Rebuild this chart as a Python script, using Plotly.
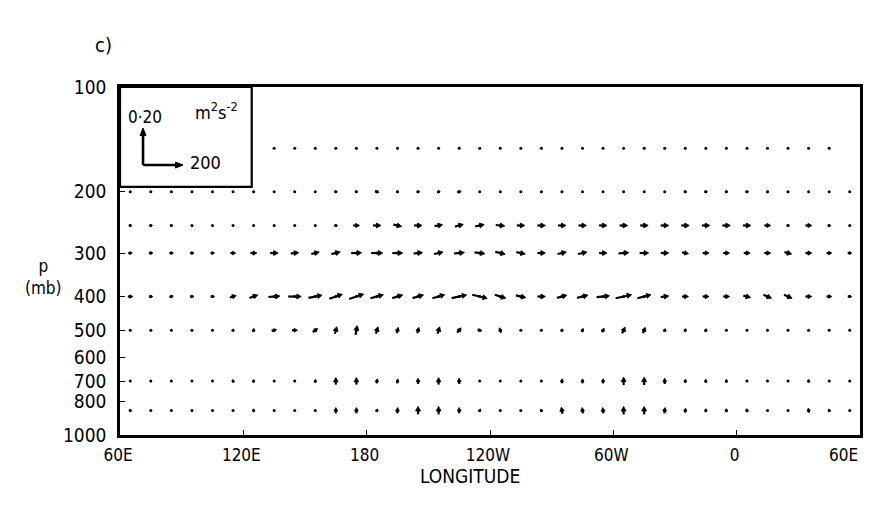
import numpy as np
import plotly.graph_objects as go

# ---------------- data ----------------
# longitudes in continuous degrees east (60E ... 420 = 60E)
lons = [65, 75, 85, 95, 105, 115, 125, 135, 145, 155, 165, 175, 185, 195, 205, 215, 225, 235,
        245, 255, 265, 275, 285, 295, 305, 315, 325, 335, 345, 355, 365, 375, 385, 395, 405, 415]
levels = [150, 200, 250, 300, 400, 500, 700, 850]

N = None
# zonal component (reference arrow = 200 m2 s-2), vertical component (reference = 0.20)
u_150 = [N, N, N, N, N, N, N, 5, 5, 5, 5, 5, 5, 5, 5, 5, 5, 5,
         5, 5, 5, 5, 5, 5, 5, 5, 5, 5, 5, 5, 5, 5, 5, 5, 5, N]
v_150 = [N, N, N, N, N, N, N, 0, 0, 0, 0, 0, 0, 0, 0, 0, 0, 0,
         0, 0, 0, 0, 0, 0, 0, 0, 0, 0, 0, 0, 0, 0, 0, 0, 0, N]
u_200 = [5, 5, 5, 5, 5, 5, 5, 5, 5, 5, 15, 15, 20, 15, 15, 15, 20, 10,
         10, 5, 5, 5, 5, 5, 5, 5, 5, 15, 15, 15, 15, 12, 5, 12, 5, 5]
v_200 = [0, 0, 0, 0, 0, 0, 0, 0, 0, 0, 0, 0, -0.007, 0, 0, 0.005, 0.007, 0,
         0, 0, 0, 0, 0, 0, 0.005, 0, 0, 0, 0, 0, 0, 0.007, 0, 0, 0, 0]
u_250 = [15, 15, 13, 10, 10, 10, 10, 10, 10, 10, 15, 32, 40, 42, 40, 40, 42, 45,
         45, 40, 40, 40, 40, 40, 40, 40, 40, 40, 40, 40, 40, 32, 15, 32, 15, 10]
v_250 = [0, 0, 0, 0, 0, 0, 0, 0, 0, 0, 0, 0, 0, -0.010, 0, 0.007, 0.012, 0.010,
         -0.005, 0, 0, 0, 0, 0, 0, 0, 0, 0, 0, 0, 0, 0, 0, 0, 0, 0]
u_300 = [20, 20, 20, 20, 20, 26, 32, 40, 40, 40, 45, 52, 58, 52, 45, 45, 52, 52,
         50, 45, 40, 45, 45, 40, 52, 45, 40, 32, 32, 32, 32, 32, 36, 32, 26, 20]
v_300 = [0, 0, 0, 0, 0, 0, 0, 0, 0.005, 0.010, 0.012, 0.002, 0, 0, 0.005, 0.010, 0.005, -0.007,
         -0.012, -0.010, 0, 0.010, 0.010, 0, 0.005, 0, 0, -0.007, 0, 0, 0, 0, -0.010, 0, 0, 0]
u_400 = [25, 20, 20, 20, 20, 32, 42, 58, 65, 68, 65, 72, 65, 52, 55, 62, 75, 75,
         55, 50, 40, 50, 55, 65, 80, 68, 40, 32, 32, 32, 36, 40, 40, 32, 26, 20]
v_400 = [0, 0, 0.005, 0, 0, 0.010, 0.017, 0.005, 0, 0.014, 0.024, 0.026, 0.019, 0.017, 0.017, 0.019, 0.017, -0.019,
         -0.019, -0.012, 0, 0.014, 0.014, 0.007, 0.019, 0.019, 0.005, 0, 0, 0, -0.010, -0.019, -0.019, 0, 0, 0]
u_500 = [0, 0, 0, 0, 0, 5, 6, 25, 28, 25, 10, 8, 10, 8, 8, 10, 20, 22,
         -10, 0, 0, 5, 8, 10, 15, 12, 5, 5, 5, 4, 0, -4, 0, 4, 0, 0]
v_500 = [0, 0, 0, 0, 0, 0.014, 0.019, 0.007, 0, 0.019, 0.038, 0.050, 0.038, 0.031, 0.031, 0.038, 0.026, -0.007,
         0.026, 0, 0, 0.014, 0.019, 0.022, 0.034, 0.031, 0.017, 0.017, 0.017, 0.012, 0, 0.012, 0, 0.010, 0, 0]
u_700 = [0, 0, 0, 0, 0, -3, -3, 0, 0, 3, 0, 0, 3, 3, 0, 0, 0, 0,
         0, 0, 0, 0, 0, 2, 0, 0, 0, 0, -2, -2, 0, 0, 0, -2, -2, 0]
v_700 = [0, 0, 0, 0, 0, 0.014, 0.014, 0, 0, 0.017, 0.038, 0.038, 0.024, 0.024, 0.031, 0.038, 0.031, 0,
         0, 0.007, 0, 0.024, 0.024, 0.024, 0.043, 0.043, 0.031, 0.019, 0.019, 0.017, 0, 0, 0, 0.017, 0.012, 0]
u_850 = [-5, -4, -4, 0, 0, -4, -5, -4, -4, 0, 0, 0, 4, 2, 0, 0, 0, 5,
         0, -3, -4, -5, -4, -4, 0, 0, 3, 3, 0, 0, -3, 0, -2, -4, -3, -3]
v_850 = [0.014, 0.012, 0.012, 0, 0, 0.012, 0.017, 0.012, 0.012, 0.012, 0.031, 0.031, 0.017, 0.031, 0.043, 0.043, 0.031, 0.017,
         0, 0.012, 0.017, 0.036, 0.031, 0.031, 0.043, 0.043, 0.031, 0.024, 0.019, 0.019, 0.019, 0, 0.012, 0.024, 0.017, 0.012]

U = {150: u_150, 200: u_200, 250: u_250, 300: u_300, 400: u_400, 500: u_500, 700: u_700, 850: u_850}
V = {150: v_150, 200: v_200, 250: v_250, 300: v_300, 400: v_400, 500: v_500, 700: v_700, 850: v_850}

x_tickvals = [60, 120, 180, 240, 300, 360, 420]
x_ticktext = ["60E", "120E", "180", "120W", "60W", "0", "60E"]
y_tickvals = [100, 200, 300, 400, 500, 600, 700, 800, 1000]

REF_U = 200
REF_V = 0.20
REF_LON, REF_P = 71.2, 167.6       # corner of the reference arrows in the inset

# ---------------- layout geometry ----------------
FIG_W, FIG_H = 871, 491
ML, MR, MT, MB = 112, 19, 79, 64
W = FIG_W - ML - MR
H = FIG_H - MT - MB
X0, X1 = 60, 420
P_TOP, P_BOT = 100, 1000
DEC = np.log10(P_BOT) - np.log10(P_TOP)

# quiver scale (pixels per unit)
KXP = 40 / REF_U
KYP = 37 / REF_V


def to_screen(lon, p):
    return (lon - X0) * W / (X1 - X0), (np.log10(p) - np.log10(P_TOP)) * H / DEC


def to_data(sx, sy):
    return X0 + sx * (X1 - X0) / W, 10 ** (np.log10(P_TOP) + sy * DEC / H)


def arrow(lon, p, u, v, centered=True, hl_max=4.5, hw_ratio=0.55):
    sx0, sy0 = to_screen(lon, p)
    dx, dy = u * KXP, -v * KYP
    L = np.hypot(dx, dy)
    if L < 2.5:
        return None
    if centered:
        tx, ty = sx0 - dx / 2, sy0 - dy / 2
    else:
        tx, ty = sx0, sy0
    ex, ey = tx + dx, ty + dy
    ux, uy = dx / L, dy / L
    hl = min(hl_max, 0.6 * L)
    hw = hl * hw_ratio
    bx, by = ex - ux * hl, ey - uy * hl
    px, py = -uy, ux
    shaft = [to_data(tx, ty), to_data(bx, by)]
    head = [to_data(ex, ey), to_data(bx + px * hw, by + py * hw),
            to_data(bx - px * hw, by - py * hw), to_data(ex, ey)]
    return shaft, head


FONT = "DejaVu Sans Condensed, Liberation Sans Narrow, sans-serif"

fig = go.Figure()

dot_x, dot_y = [], []
sh_x, sh_y, hd_x, hd_y = [], [], [], []
for p in levels:
    for i, lon in enumerate(lons):
        u = U[p][i]
        v = V[p][i]
        if u is None:
            continue
        dot_x.append(lon)
        dot_y.append(p)
        g = arrow(lon, p, u, v)
        if g is None:
            continue
        shaft, head = g
        for a, b in shaft:
            sh_x.append(a); sh_y.append(b)
        sh_x.append(None); sh_y.append(None)
        for a, b in head:
            hd_x.append(a); hd_y.append(b)
        hd_x.append(None); hd_y.append(None)

fig.add_trace(go.Scatter(x=dot_x, y=dot_y, mode="markers",
                         marker=dict(size=3, color="black"),
                         hoverinfo="skip", showlegend=False))
fig.add_trace(go.Scatter(x=sh_x, y=sh_y, mode="lines",
                         line=dict(color="black", width=2.2),
                         hoverinfo="skip", showlegend=False))
fig.add_trace(go.Scatter(x=hd_x, y=hd_y, mode="lines", fill="toself",
                         fillcolor="black", line=dict(color="black", width=0.8),
                         hoverinfo="skip", showlegend=False))

# reference arrows in the inset
rx, ry, qx, qy = [], [], [], []
for (uu, vv) in [(0, REF_V), (REF_U, 0)]:
    shaft, head = arrow(REF_LON, REF_P, uu, vv, centered=False, hl_max=7.5, hw_ratio=0.4)
    for a, b in shaft:
        rx.append(a); ry.append(b)
    rx.append(None); ry.append(None)
    for a, b in head:
        qx.append(a); qy.append(b)
    qx.append(None); qy.append(None)
fig.add_trace(go.Scatter(x=rx, y=ry, mode="lines", line=dict(color="black", width=2.6),
                         hoverinfo="skip", showlegend=False))
fig.add_trace(go.Scatter(x=qx, y=qy, mode="lines", fill="toself", fillcolor="black",
                         line=dict(color="black", width=1), hoverinfo="skip", showlegend=False))

anns = []


def label(text, px_x, px_y, size, xanchor="center", **kw):
    anns.append(dict(x=px_x, y=px_y, xref="paper", yref="paper", text=text,
                     xanchor=xanchor, yanchor="middle", showarrow=False,
                     font=dict(size=size, family=FONT, color="black"), **kw))


label("0·20", 0.034, 0.914, 17)
label("m<sup>2</sup>s<sup>-2</sup>", 0.130, 0.930, 18)
label("200", 0.115, 0.782, 18)
label("c)", -0.022, 1.121, 20)
label("p<br>(mb)", -0.103, 0.454, 17)
label("LONGITUDE", 0.473, -0.118, 19)
# last longitude label, kept inside the visible page
label(x_ticktext[-1], 1.0, -0.058, 17, xanchor="right")

x_ticklabels = x_ticktext[:-1] + [""]

fig.update_layout(
    width=FIG_W, height=FIG_H,
    margin=dict(l=ML, r=MR, t=MT, b=MB, autoexpand=False),
    paper_bgcolor="white", plot_bgcolor="white",
    font=dict(family=FONT, size=19, color="black"),
    annotations=anns,
    shapes=[dict(type="rect", xref="paper", yref="paper", x0=0, x1=0.178, y0=0.713, y1=1,
                 line=dict(color="black", width=2.2), fillcolor="rgba(0,0,0,0)")],
    showlegend=False,
)
fig.update_xaxes(range=[X0, X1], tickvals=x_tickvals, ticktext=x_ticklabels,
                 tickfont=dict(size=17, family=FONT),
                 showgrid=False, zeroline=False, showline=True, mirror=True,
                 linecolor="black", linewidth=2.5, ticks="inside", ticklen=5,
                 tickcolor="black", tickwidth=1.2, ticklabelstandoff=3,
                 ticklabelshift=-2)
fig.update_yaxes(type="log", range=[np.log10(P_BOT), np.log10(P_TOP)], tickvals=y_tickvals,
                 ticktext=[str(t) for t in y_tickvals],
                 showgrid=False, zeroline=False, showline=True, mirror=True,
                 linecolor="black", linewidth=2.5, ticks="inside", ticklen=5,
                 tickcolor="black", tickwidth=1.2, ticklabelstandoff=7)

fig.write_html("out.html")
